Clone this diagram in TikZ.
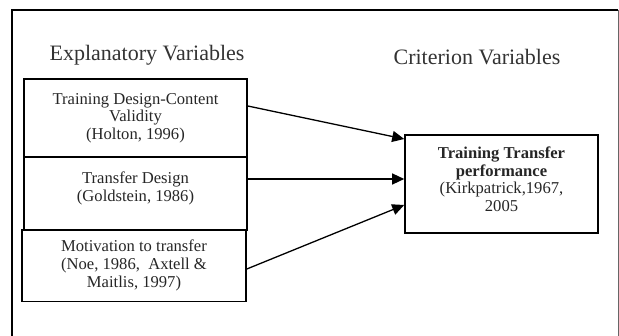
\documentclass[tikz,border=0pt]{standalone}
\usepackage{fontspec}
\setmainfont{Liberation Serif}
\usetikzlibrary{arrows.meta}
\tikzset{>/.tip={Triangle[length=12pt,width=11pt]},
  varbox/.style={draw, line width=1.6pt, align=center, inner sep=2pt,
    font=\fontsize{16.6}{17.6}\selectfont, text=black!85},
  headline/.style={font=\fontsize{22}{24}\selectfont, text=black!80}}

\begin{document}
\begin{tikzpicture}[x=1pt, y=-1pt]
\useasboundingbox (0,0) rectangle (619,336);
% frame
\draw[line width=1.6pt] (12,336) -- (12,10) -- (618,10);
\draw[line width=0.9pt, black!60] (618,10) -- (618,336);

\node[headline] (expl) at (147,55) {Explanatory Variables};
\node[headline] (crit) at (477,57) {Criterion Variables};

\node[varbox, minimum width=223pt, minimum height=78pt] (design) at (135.5,118)
  {Training Design-Content\\Validity\\(Holton, 1996)};
\node[varbox, minimum width=223pt, minimum height=73pt] (trdesign) at (135.5,193.5)
  {Transfer Design\\(Goldstein, 1986)\\[-4pt]};
\node[varbox, minimum width=224pt, minimum height=72pt] (motiv) at (134,265.5)
  {Motivation to transfer\\(Noe, 1986,~ Axtell \&\\Maitlis, 1997)};

\node[varbox, minimum width=193pt, minimum height=98pt] (perf) at (501.5,184)
  {\textbf{Training Transfer}\\\textbf{performance}\\(Kirkpatrick,1967,\\2005\\[-8pt]};

\path[->,line width=1.3pt] ([yshift=12pt]design.east) edge ([yshift=45pt]perf.west);
\path[->,line width=1.3pt] ([yshift=14.5pt]trdesign.east) edge ([yshift=5pt]perf.west);
\path[->,line width=1.3pt] ([yshift=-3.5pt]motiv.east) edge ([yshift=-21pt]perf.west);
\end{tikzpicture}
\end{document}
